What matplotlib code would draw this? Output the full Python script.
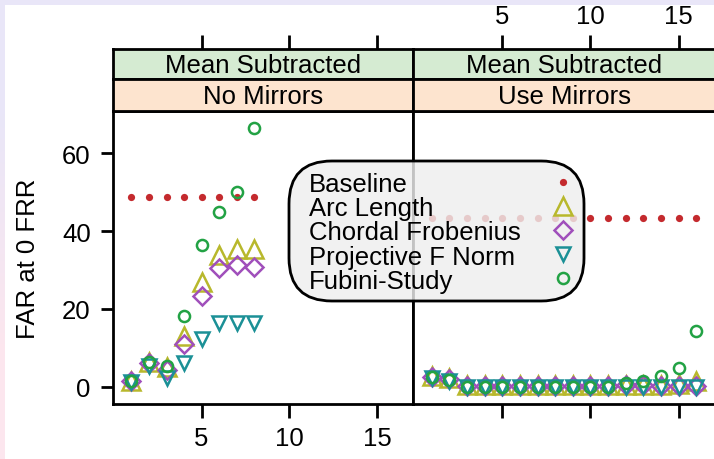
import numpy as np
import matplotlib
matplotlib.use("Agg")
import matplotlib.pyplot as plt
from matplotlib.patches import FancyBboxPatch, Rectangle
from matplotlib.lines import Line2D

plt.rcParams['font.family'] = ['Liberation Sans', 'DejaVu Sans']

# ---- data ----
x_nm = [1, 2, 3, 4, 5, 6, 7, 8]
baseline_nm = [48.8, 48.8, 48.8, 48.8, 48.8, 48.8, 48.8, 48.8]
arc_nm = [1.5, 6.5, 5.0, 13.0, 27.0, 33.8, 35.4, 35.3]
chordal_nm = [1.6, 6.0, 4.3, 11.0, 23.4, 30.5, 31.2, 30.8]
proj_nm = [1.3, 5.3, 2.3, 6.2, 12.3, 16.4, 16.4, 16.4]
fubini_nm = [1.6, 6.4, 5.3, 18.3, 36.4, 44.9, 50.0, 66.4]

x_um = [1, 2, 3, 4, 5, 6, 7, 8, 9, 10, 11, 12, 13, 14, 15, 16]
baseline_um = [43.3, 43.3, 43.3, 43.3, 43.3, 43.3, 43.3, 43.3,
               43.3, 43.3, 43.3, 43.3, 43.3, 43.3, 43.3, 43.3]
arc_um = [2.9, 2.3, 0.4, 0.4, 0.4, 0.4, 0.4, 0.4,
          0.4, 0.4, 0.4, 0.4, 0.5, 0.6, 0.8, 1.6]
chordal_um = [2.5, 1.9, 0.2, 0.2, 0.2, 0.2, 0.2, 0.2,
              0.2, 0.2, 0.2, 0.4, 0.6, 0.3, 0.3, 0.3]
proj_um = [2.2, 1.6, 0.0, 0.0, 0.0, 0.0, 0.0, 0.0,
           0.0, 0.0, 0.0, 0.0, 0.0, 0.0, 0.0, 0.0]
fubini_um = [2.5, 1.7, 0.0, 0.0, 0.0, 0.0, 0.0, 0.0,
             0.0, 0.0, 0.0, 1.0, 1.6, 2.8, 4.8, 14.4]

strip_top = ["Mean Subtracted", "Mean Subtracted"]
strip_bottom = ["No Mirrors", "Use Mirrors"]
legend_labels = ["Baseline", "Arc Length", "Chordal Frobenius",
                 "Projective F Norm", "Fubini-Study"]
xticks = [5, 10, 15]
yticks = [0, 20, 40, 60]

# ---- styles ----
FS = 18.5
LW = 2.0
W, H = 714, 460
col_base = '#c42a2e'
col_arc = '#b8b82c'
col_chord = '#a04fbb'
col_proj = '#1b9096'
col_fub = '#22a244'
styles = [
    dict(marker='o', ms=5.2, color=col_base, mfc=col_base, mew=0),
    dict(marker='^', ms=12.5, color=col_arc, mfc='none', mew=1.8),
    dict(marker='D', ms=9, color=col_chord, mfc='none', mew=1.8),
    dict(marker='v', ms=10, color=col_proj, mfc='none', mew=1.8),
    dict(marker='o', ms=8, color=col_fub, mfc='none', mew=1.8),
]


def fx(px):
    return px / W


def fy(py):
    return 1 - py / H


fig = plt.figure(figsize=(W / 100, H / 100), dpi=100)

# page background: lavender/pink border round a white sheet
bg = fig.add_axes([0, 0, 1, 1])
grad = np.array([[0.0], [1.0]])
bg.imshow(grad, aspect='auto', extent=[0, 1, 0, 1], interpolation='bilinear',
          cmap=matplotlib.colors.LinearSegmentedColormap.from_list(
              'bgc', ['#fce6ee', '#e9e6f8']), origin='lower')
bg.add_patch(Rectangle((fx(5), 0), 1, fy(6), color='white', lw=0))
bg.set_xlim(0, 1)
bg.set_ylim(0, 1)
bg.axis('off')

panel_top, panel_bot = 112, 405
panels = [(113, 300), (413, 302)]
data = [
    (x_nm, [baseline_nm, arc_nm, chordal_nm, proj_nm, fubini_nm]),
    (x_um, [baseline_um, arc_um, chordal_um, proj_um, fubini_um]),
]
xlim = (-0.05, 17.05)
ylim = (-4.4, 70.8)

for i, ((left, width), (xs, series)) in enumerate(zip(panels, data)):
    ax = fig.add_axes([fx(left), fy(panel_bot), width / W,
                       (panel_bot - panel_top) / H])
    for ys, st in zip(series, styles):
        ax.plot(xs, ys, ls='none', clip_on=False, **st)
    ax.set_xlim(*xlim)
    ax.set_ylim(*ylim)
    ax.set_xticks(xticks)
    ax.set_yticks(yticks)
    for sp in ax.spines.values():
        sp.set_linewidth(LW)
    ax.tick_params(axis='x', direction='out', length=10, width=LW,
                   labelsize=FS, pad=6, labelbottom=(i == 0))
    ax.tick_params(axis='y', direction='out', length=9, width=LW,
                   labelsize=FS, pad=7, left=(i == 0), labelleft=(i == 0))
    if i == 0:
        ax.set_ylabel('FAR at 0 FRR', fontsize=FS, labelpad=16)

    # strips
    for (t, b, txt, fc) in [(50, 80, strip_top[i], '#d5ebd2'),
                            (80, 112, strip_bottom[i], '#fde4cf')]:
        sa = fig.add_axes([fx(left), fy(b), width / W, (b - t) / H])
        sa.set_facecolor(fc)
        sa.set_xlim(*xlim)
        sa.set_yticks([])
        for sp in sa.spines.values():
            sp.set_linewidth(LW)
        sa.text(0.5, 0.47, txt, transform=sa.transAxes, ha='center',
                va='center', fontsize=FS)
        if t == 50:
            sa.set_xticks(xticks)
            sa.tick_params(axis='x', bottom=False, labelbottom=False,
                           top=True, labeltop=(i == 1), direction='out',
                           length=10, width=LW, labelsize=FS, pad=5)
        else:
            sa.set_xticks([])

# legend drawn over the panels with a see-through rounded box
for fc, ec, z in [('#eeeeee', 'none', 10), ('none', 'black', 11)]:
    p = FancyBboxPatch((fx(289), fy(302)), (584 - 289) / W, (302 - 162) / H,
                       boxstyle='round,pad=0,rounding_size=0.06',
                       transform=fig.transFigure, facecolor=fc,
                       alpha=0.82 if fc != 'none' else 1.0,
                       edgecolor=ec, lw=LW, zorder=z,
                       mutation_aspect=W / H)
    fig.add_artist(p)
rows = [183, 207, 231, 255, 279]
for lab, st, r in zip(legend_labels, styles, rows):
    fig.text(fx(309), fy(r), lab, fontsize=FS, ha='left',
             va='center_baseline', zorder=12)
    fig.add_artist(Line2D([fx(563)], [fy(r)], ls='none',
                          transform=fig.transFigure, zorder=12, **st))

fig.savefig('out.png', dpi=100)
